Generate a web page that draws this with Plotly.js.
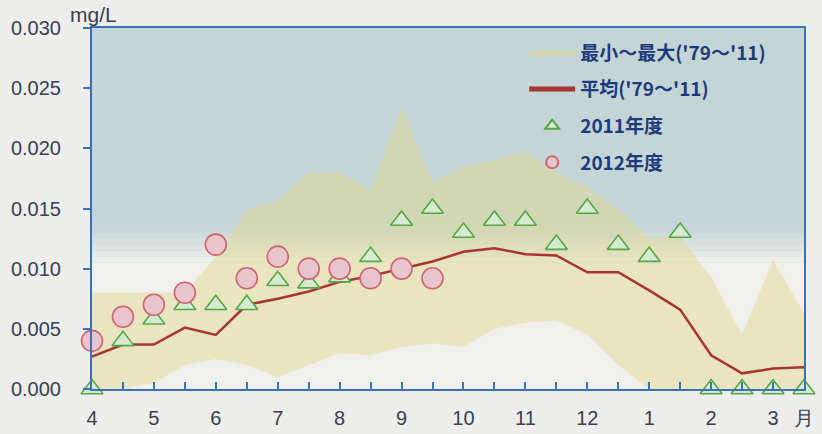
<!DOCTYPE html>
<html>
<head>
<meta charset="utf-8">
<script src="https://cdn.plot.ly/plotly-3.0.1.min.js"></script>
<style>html,body{margin:0;padding:0;background:#edeeeb;}#chart{width:822px;height:434px;}</style>
</head>
<body>
<div id="chart"></div>
<script>
// half-month positions: 0 = early April ... 23 = late March
const xIdx = [0,1,2,3,4,5,6,7,8,9,10,11,12,13,14,15,16,17,18,19,20,21,22,23];
const tickText = ["4","","5","","6","","7","","8","","9","","10","","11","","12","","1","","2","","3","月"];

// min-max band ('79-'11)
const bandMax = [0.0080,0.0080,0.0080,0.0080,0.0110,0.0149,0.0157,0.0180,0.0180,0.0165,0.0234,0.0172,
                 0.0185,0.0190,0.0198,0.0180,0.0168,0.0150,0.0126,0.0127,0.0093,0.0045,0.0107,0.0063];
const bandMin = [0.0000,0.0000,0.0005,0.0020,0.0025,0.0020,0.0010,0.0020,0.0030,0.0028,0.0035,0.0038,
                 0.0035,0.0050,0.0055,0.0057,0.0045,0.0020,0.0000,0.0000,0.0000,0.0000,0.0000,0.0000];
// mean ('79-'11)
const meanVals = [0.0027,0.0037,0.0037,0.0051,0.0045,0.0070,0.0075,0.0081,0.0089,0.0094,0.0100,0.0106,
                  0.0114,0.0117,0.0112,0.0111,0.0097,0.0097,0.0082,0.0066,0.0028,0.0013,0.0017,0.0018];
// 2011 fiscal year
const fy2011 = [0.000,0.004,0.0058,0.007,0.007,0.007,0.009,0.0088,0.0093,0.011,0.014,0.015,
                0.013,0.014,0.014,0.012,0.015,0.012,0.011,0.013,0.000,0.000,0.000,0.000];
// 2012 fiscal year (Apr - Sep)
const x2012 = [0,1,2,3,4,5,6,7,8,9,10,11];
const fy2012 = [0.004,0.006,0.007,0.008,0.012,0.0092,0.011,0.010,0.010,0.0092,0.010,0.0092];

const yTicks = [0,0.005,0.010,0.015,0.020,0.025,0.030];

const traces = [
  {x: xIdx, y: bandMin, type:'scatter', mode:'lines', line:{width:0}, showlegend:false, hoverinfo:'skip'},
  {x: xIdx, y: bandMax, type:'scatter', mode:'lines', fill:'tonexty', fillcolor:'rgba(226,216,140,0.45)',
   line:{width:0}, name:'最小～最大(\'79～\'11)', legendgroup:'a'},
  {x: xIdx, y: meanVals, type:'scatter', mode:'lines', line:{color:'#a8352f', width:2.5},
   name:'平均(\'79～\'11)', legendgroup:'b'},
  {x: xIdx, y: fy2011, type:'scatter', mode:'markers', cliponaxis:false,
   marker:{symbol:'triangle-up', size:19, color:'#d6ead0', line:{color:'#58a648', width:1.6}},
   name:'2011年度', legendgroup:'c'},
  {x: x2012, y: fy2012, type:'scatter', mode:'markers', cliponaxis:false,
   marker:{symbol:'circle', size:21, color:'#e8c4cc', line:{color:'#cf6572', width:1.6}},
   name:'2012年度', legendgroup:'d'}
];

// background gradient (blue top -> white bottom)
const shapes = [{type:'rect', xref:'paper', x0:0, x1:1, yref:'y', y0:0, y1:0.0105,
                 fillcolor:'#eff0eb', line:{width:0}, layer:'below'}];
const c1 = [239,240,235], c2 = [195,213,215];
const nStrip = 6;
for (let i = 0; i < nStrip; i++) {
  const t = (i + 0.5) / nStrip;
  const c = c1.map((v, k) => Math.round(v + (c2[k] - v) * t));
  shapes.push({type:'rect', xref:'paper', x0:0, x1:1, yref:'y',
               y0:0.0105 + i * 0.003 / nStrip, y1:0.0105 + (i + 1) * 0.003 / nStrip + 0.00002,
               fillcolor:'rgb(' + c.join(',') + ')', line:{width:0}, layer:'below'});
}

const axisColor = '#3a72b4';
const tickFont = {family:'Liberation Sans, Arial, sans-serif', size:20, color:'#3b3f4f'};

const layout = {
  width:822, height:434,
  margin:{l:92, r:18, t:28, b:45},
  paper_bgcolor:'#edeeeb',
  plot_bgcolor:'rgb(195,213,215)',
  showlegend:true,
  legend:{x:0.607, y:0.985, xanchor:'left', yanchor:'top', bgcolor:'rgba(0,0,0,0)',
          font:{family:'Noto Sans CJK JP, sans-serif', size:19, color:'#1f3a7a', weight:'bold'},
          itemwidth:46, tracegroupgap:9, itemsizing:'constant'},
  xaxis:{range:[0,23], tickmode:'array', tickvals:xIdx, ticktext:tickText,
         ticks:'inside', ticklen:7, tickwidth:2, tickcolor:axisColor,
         showline:true, linecolor:axisColor, linewidth:2, mirror:true,
         showgrid:false, zeroline:false, tickfont:tickFont, ticklabelstandoff:10},
  yaxis:{range:[0,0.030], tickmode:'array', tickvals:yTicks, tickformat:'.3f',
         ticks:'outside', ticklen:7, tickwidth:2, tickcolor:axisColor,
         showline:true, linecolor:axisColor, linewidth:2, mirror:true,
         showgrid:false, zeroline:false, tickfont:tickFont, ticklabelstandoff:18},
  shapes: shapes,
  annotations:[{text:'mg/L', xref:'paper', yref:'paper', x:-0.034, y:1.0, xanchor:'left', yanchor:'bottom',
                showarrow:false, font:{family:'Liberation Sans, Arial, sans-serif', size:21, color:'#3b3f4f'}}]
};

Plotly.newPlot('chart', traces, layout, {displayModeBar:false, staticPlot:true});
</script>
</body>
</html>
